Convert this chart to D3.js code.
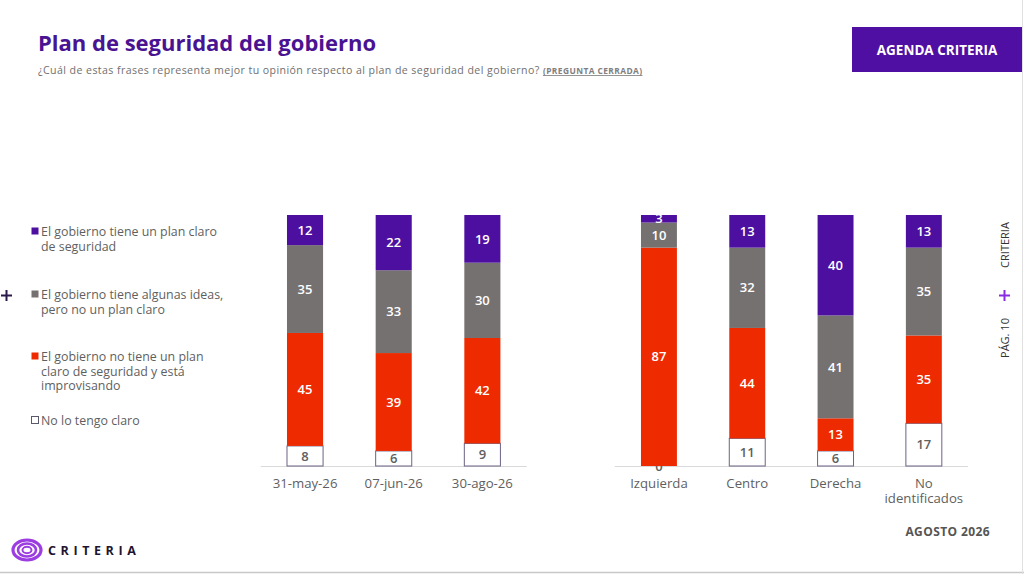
<!DOCTYPE html>
<html>
<head>
<meta charset="utf-8">
<script src="https://cdn.jsdelivr.net/npm/d3@7"></script>
<style>
  html, body { margin: 0; padding: 0; background: #fff; }
  svg { display: block; font-family: "Open Sans", "DejaVu Sans", sans-serif; }
</style>
</head>
<body>
<div id="chart"></div>
<script>
// series, bottom to top
const seriesKeys = ["nose", "noTiene", "ideas", "claro"];
const seriesColors = { nose: "#ffffff", noTiene: "#ee2a00", ideas: "#767171", claro: "#4d0f9f" };

const legendItems = [
  { key: "claro", lines: ["El gobierno tiene un plan claro", "de seguridad"] },
  { key: "ideas", lines: ["El gobierno tiene algunas ideas,", "pero no un plan claro"] },
  { key: "noTiene", lines: ["El gobierno no tiene un plan", "claro de seguridad y está", "improvisando"] },
  { key: "nose", lines: ["No lo tengo claro"] }
];

// group 1: waves
const waveLabels = ["31-may-26", "07-jun-26", "30-ago-26"];
const waveNose = [8, 6, 9];
const waveNoTiene = [45, 39, 42];
const waveIdeas = [35, 33, 30];
const waveClaro = [12, 22, 19];

// group 2: ideology
const ideoLabels = ["Izquierda", "Centro", "Derecha", "No identificados"];
const ideoNose = [0, 11, 6, 17];
const ideoNoTiene = [87, 44, 13, 35];
const ideoIdeas = [10, 32, 41, 35];
const ideoClaro = [3, 13, 40, 13];

const W = 1024, H = 574;
const svg = d3.select("#chart").append("svg").attr("width", W).attr("height", H);

// header
svg.append("text").attr("x", 38).attr("y", 51)
  .attr("font-size", 22).attr("font-weight", 700).attr("fill", "#4a1392")
  .text("Plan de seguridad del gobierno");

const sub = svg.append("text").attr("x", 38).attr("y", 74)
  .attr("font-size", 10.6).attr("letter-spacing", 0.42).attr("fill", "#707070");
sub.append("tspan").text("¿Cuál de estas frases representa mejor tu opinión respecto al plan de seguridad del gobierno? ");
sub.append("tspan").attr("font-size", 8.4).attr("font-weight", 700)
  .attr("text-decoration", "underline").attr("fill", "#808080").text("(PREGUNTA CERRADA)");

svg.append("rect").attr("x", 852).attr("y", 27).attr("width", 170).attr("height", 45)
  .attr("fill", "#500fa3");
svg.append("text").attr("x", 937).attr("y", 54.5).attr("text-anchor", "middle")
  .attr("font-size", 13.5).attr("font-weight", 700).attr("fill", "#fff")
  .text("AGENDA CRITERIA");

// legend
const legendY = [232, 295, 357, 421];
const legend = svg.append("g");
legendItems.forEach((d, i) => {
  legend.append("rect").attr("x", 31.5).attr("y", legendY[i] - 4.5).attr("width", 7).attr("height", 7)
    .attr("fill", seriesColors[d.key])
    .attr("stroke", d.key === "nose" ? "#5a5a6a" : "none").attr("stroke-width", 1);
  d.lines.forEach((l, j) => {
    legend.append("text").attr("x", 41).attr("y", legendY[i] + 4 + j * 14.5)
      .attr("font-size", 12.4).attr("fill", "#5f5f5f").text(l);
  });
});

function plus(cx, cy, r, color) {
  svg.append("path").attr("d", `M${cx - r},${cy}H${cx + r}M${cx},${cy - r}V${cy + r}`)
    .attr("stroke", color).attr("stroke-width", 2).attr("fill", "none");
}
plus(6.5, 295.5, 5.5, "#2a1a4a");

// scales
const y = d3.scaleLinear().domain([0, 100]).range([466, 215]);

function drawGroup(labels, nose, noTiene, ideas, claro, range) {
  const rows = labels.map((c, i) => ({
    cat: c, nose: nose[i], noTiene: noTiene[i], ideas: ideas[i], claro: claro[i]
  }));
  const x = d3.scaleBand().domain(labels).range(range).paddingInner(0.593).paddingOuter(0.2965);
  const stacked = d3.stack().keys(seriesKeys)(rows);
  const g = svg.append("g");

  g.append("line").attr("x1", range[0]).attr("x2", range[1])
    .attr("y1", y(0) + 0.5).attr("y2", y(0) + 0.5)
    .attr("stroke", "#d9d9d9").attr("stroke-width", 1);

  // each layer: rects then labels, so a zero label sits half under the next layer
  stacked.forEach(layer => {
    const key = layer.key;
    g.append("g").selectAll("rect").data(layer).join("rect")
      .attr("x", d => x(d.data.cat))
      .attr("y", d => y(d[1]))
      .attr("width", x.bandwidth())
      .attr("height", d => y(d[0]) - y(d[1]))
      .attr("fill", seriesColors[key])
      .attr("stroke", key === "nose" ? "#6c6384" : "none")
      .attr("stroke-width", 1);
    g.append("g").selectAll("text").data(layer).join("text")
      .attr("x", d => x(d.data.cat) + x.bandwidth() / 2)
      .attr("y", d => (y(d[0]) + y(d[1])) / 2)
      .attr("dy", "0.36em")
      .attr("text-anchor", "middle")
      .attr("font-size", 13).attr("font-weight", 600)
      .attr("fill", key === "nose" ? "#606060" : "#fff")
      .text(d => d.data[key]);
  });

  // category labels
  const ax = g.append("g").attr("transform", `translate(0,${y(0)})`)
    .call(d3.axisBottom(x).tickSize(0).tickPadding(0).tickFormat(""));
  ax.select(".domain").remove();
  ax.selectAll(".tick").each(function(c) {
    const t = d3.select(this).append("text").attr("text-anchor", "middle")
      .attr("font-size", 13.2).attr("fill", "#5f5f5f")
      .attr("font-family", "'Open Sans', sans-serif");
    const parts = c === "No identificados" ? ["No", "identificados"] : [c];
    parts.forEach((p, j) => t.append("tspan").attr("x", 0).attr("y", 22 + j * 15).text(p));
  });
}

drawGroup(waveLabels, waveNose, waveNoTiene, waveIdeas, waveClaro, [260.7, 526.7]);
drawGroup(ideoLabels, ideoNose, ideoNoTiene, ideoIdeas, ideoClaro, [614.8, 968]);

// right side page marker
svg.append("text").attr("transform", "translate(1009,245) rotate(-90)")
  .attr("text-anchor", "middle").attr("font-size", 11).attr("fill", "#333").text("CRITERIA");
plus(1004.5, 295.5, 5.5, "#8a2be2");
svg.append("text").attr("transform", "translate(1009,338) rotate(-90)")
  .attr("text-anchor", "middle").attr("font-size", 11).attr("fill", "#333").text("PÁG. 10");

// footer
const logo = svg.append("g").attr("transform", "translate(27,550)");
[[14, 10, 3.2], [9, 6.5, 2.6], [4.5, 3.2, 2]].forEach(([rx, ry, sw]) => {
  logo.append("ellipse").attr("rx", rx).attr("ry", ry).attr("fill", "none")
    .attr("stroke", "#9b3de0").attr("stroke-width", sw);
});
svg.append("text").attr("x", 48).attr("y", 555).attr("font-size", 12.5).attr("font-weight", 700)
  .attr("letter-spacing", 4.6).attr("fill", "#1d1530").text("CRITERIA");

svg.append("text").attr("x", 990).attr("y", 536).attr("text-anchor", "end")
  .attr("font-size", 12).attr("font-weight", 700).attr("letter-spacing", 0.4)
  .attr("fill", "#555").text("AGOSTO 2026");

svg.append("line").attr("x1", 0).attr("x2", W).attr("y1", 572.5).attr("y2", 572.5)
  .attr("stroke", "#c8c8c8").attr("stroke-width", 1.5);
svg.append("line").attr("x1", 1022.5).attr("x2", 1022.5).attr("y1", 0).attr("y2", H)
  .attr("stroke", "#e0e0e0").attr("stroke-width", 1);
</script>
</body>
</html>
